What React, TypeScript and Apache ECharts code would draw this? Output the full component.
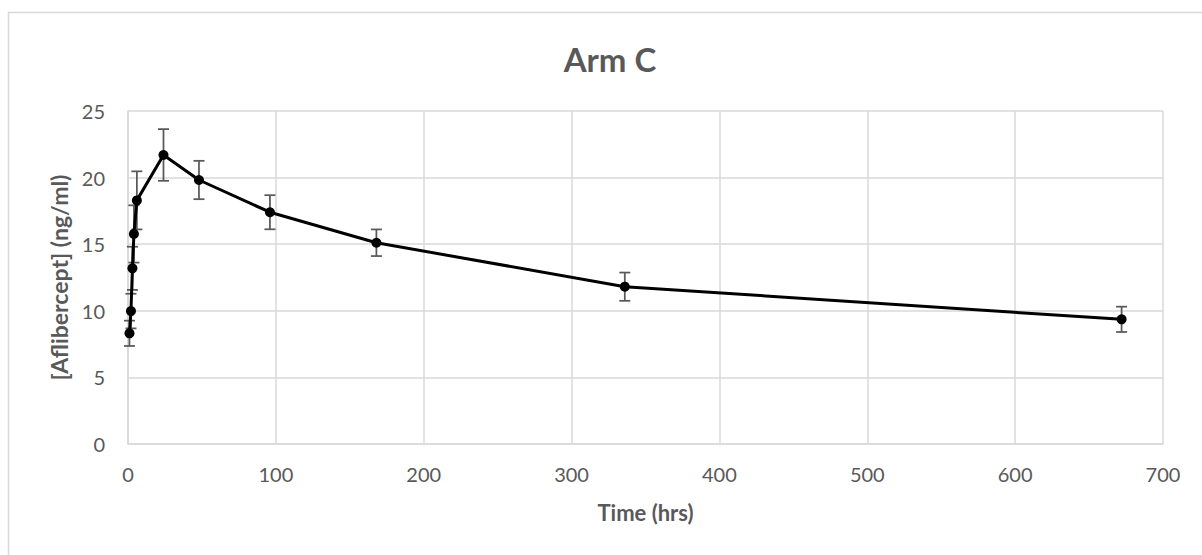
import React, { useEffect, useRef } from "react";
import * as echarts from "echarts";

const times = [1, 2, 3, 4, 6, 24, 48, 96, 168, 336, 672];
const values = [8.31, 9.98, 13.19, 15.77, 18.29, 21.7, 19.82, 17.4, 15.11, 11.81, 9.36];
const errors = [0.95, 1.3, 1.62, 2.15, 2.18, 1.94, 1.44, 1.28, 1.0, 1.06, 0.95];

const FONT = "Lato, 'Open Sans', sans-serif";
const GRAY = "#595959";
const GRID = "#d9d9d9";

export default function App() {
  const ref = useRef<HTMLDivElement>(null);
  useEffect(() => {
    if (!ref.current) return;
    const chart = echarts.init(ref.current, null, { renderer: "svg" });
    const lineData = times.map((t, i) => [t, values[i]]);
    const errData = times.map((t, i) => [t, values[i] - errors[i], values[i] + errors[i]]);
    chart.setOption({
      animation: false,
      backgroundColor: "#ffffff",
      textStyle: { fontFamily: FONT },
      graphic: [
        {
          type: "rect",
          shape: { x: 8.5, y: 12.5, width: 1250, height: 600 },
          style: { fill: "none", stroke: GRID, lineWidth: 1.5 },
          silent: true,
          z: -10,
        },
        {
          type: "text",
          x: 610,
          y: 59,
          silent: true,
          style: {
            text: "Arm C",
            fill: GRAY,
            font: "bold 33px " + FONT,
            align: "center",
            verticalAlign: "middle",
            textAlign: "center",
            textVerticalAlign: "middle",
          },
        },
      ],
      grid: { left: 128, top: 111, right: 39, bottom: 111, containLabel: false },
      xAxis: {
        type: "value",
        min: 0,
        max: 700,
        interval: 100,
        name: "Time (hrs)",
        nameLocation: "middle",
        nameGap: 57,
        nameTextStyle: { fontFamily: FONT, fontSize: 22, fontWeight: "bold", color: GRAY },
        axisLine: { show: true, lineStyle: { color: GRID, width: 1.5 } },
        axisTick: { show: false },
        axisLabel: { fontFamily: FONT, fontSize: 20, color: GRAY, margin: 20 },
        splitLine: { show: true, lineStyle: { color: GRID, width: 1.5 } },
      },
      yAxis: {
        type: "value",
        min: 0,
        max: 25,
        interval: 5,
        name: "[Aflibercept] (ng/ml)",
        nameLocation: "middle",
        nameGap: 51,
        nameTextStyle: { fontFamily: FONT, fontSize: 23, fontWeight: "bold", color: GRAY },
        axisLine: { show: true, lineStyle: { color: GRID, width: 1.5 } },
        axisTick: { show: false },
        axisLabel: { fontFamily: FONT, fontSize: 20, color: GRAY, margin: 23 },
        splitLine: { show: true, lineStyle: { color: GRID, width: 1.5 } },
      },
      series: [
        {
          type: "custom",
          data: errData,
          z: 2,
          renderItem: (params: any, api: any) => {
            const x = api.value(0);
            const lo = api.coord([x, api.value(1)]);
            const hi = api.coord([x, api.value(2)]);
            const hw = 5.5;
            const style = { stroke: GRAY, lineWidth: 1.75 };
            return {
              type: "group",
              children: [
                { type: "line", shape: { x1: lo[0], y1: lo[1], x2: hi[0], y2: hi[1] }, style },
                { type: "line", shape: { x1: lo[0] - hw, y1: lo[1], x2: lo[0] + hw, y2: lo[1] }, style },
                { type: "line", shape: { x1: hi[0] - hw, y1: hi[1], x2: hi[0] + hw, y2: hi[1] }, style },
              ],
            };
          },
        },
        {
          type: "line",
          data: lineData,
          z: 3,
          symbol: "circle",
          symbolSize: 10,
          lineStyle: { color: "#000000", width: 3 },
          itemStyle: { color: "#000000" },
        },
      ],
    });
    return () => chart.dispose();
  }, []);
  return (
    <div
      ref={ref}
      style={{ position: "fixed", left: 0, top: 0, width: 1202, height: 555 }}
    />
  );
}
